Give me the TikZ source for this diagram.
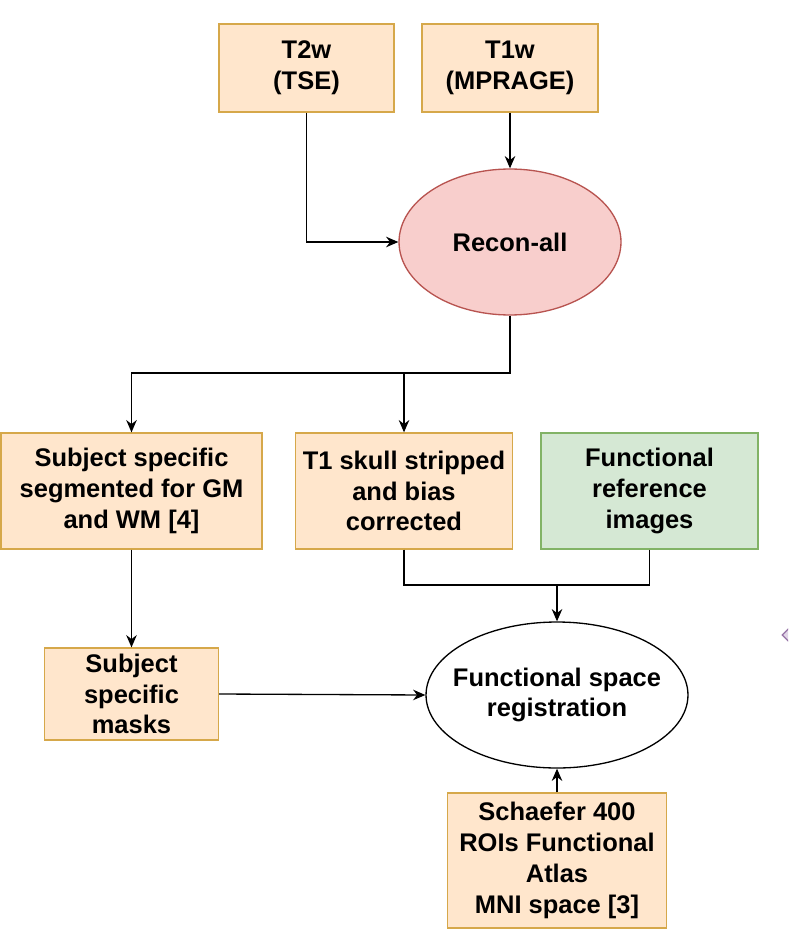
\documentclass[tikz,border=0pt]{standalone}
\usepackage{fontspec}
\setmainfont{Liberation Sans}
\usetikzlibrary{arrows.meta,shapes.geometric}
\definecolor{boxfill}{HTML}{FFE6CC}
\definecolor{boxline}{HTML}{D6A84A}
\definecolor{greenfill}{HTML}{D5E8D4}
\definecolor{greenline}{HTML}{82B366}
\definecolor{pinkfill}{HTML}{F8CECC}
\definecolor{pinkline}{HTML}{B85450}
\definecolor{lilacfill}{HTML}{E1D5E7}
\definecolor{lilacline}{HTML}{9673A6}
\tikzset{
  lab/.style={font=\bfseries\fontsize{14.5}{17.5}\selectfont, align=center},
  stepbox/.style={lab, draw=boxline, fill=boxfill, line width=0.75pt, inner xsep=2pt},
  greenbox/.style={lab, draw=greenline, fill=greenfill, line width=0.75pt, inner xsep=2pt},
  oval/.style={lab, ellipse, line width=0.75pt, inner sep=0pt},
  conn/.style={line width=0.75pt, -{Stealth[length=7pt,width=6pt]}}
}
\begin{document}
\begin{tikzpicture}[x=0.02cm, y=-0.02cm]
  \clip (0,0) rectangle (788,932);
  \fill[white] (0,0) rectangle (788,932);
  % inputs
  \node[stepbox, minimum width=3.5cm, minimum height=1.76cm] (t2w) at (306.5,68) {T2w\\(TSE)};
  \node[stepbox, minimum width=3.52cm, minimum height=1.76cm] (t1w) at (510,68) {T1w\\(MPRAGE)};
  \node[oval, draw=pinkline, fill=pinkfill, minimum width=4.44cm, minimum height=2.92cm] (recon) at (510,242) {Recon-all};
  % outputs of recon-all
  \node[stepbox, minimum width=5.22cm, minimum height=2.32cm] (seg) at (131.5,491) {Subject specific\\segmented for GM\\and WM [4]};
  \node[stepbox, minimum width=4.34cm, minimum height=2.32cm] (skull) at (404,491) {T1 skull stripped\\and bias\\corrected};
  \node[greenbox, minimum width=4.34cm, minimum height=2.32cm] (funcref) at (649.5,491) {Functional\\reference\\images};
  \node[stepbox, minimum width=3.48cm, minimum height=1.76cm] (masks) at (131.5,694) {Subject\\specific\\masks};
  \node[oval, draw=black, fill=white, inner xsep=-0.3cm, minimum width=5.24cm, minimum height=2.92cm] (reg) at (557,695) {Functional space\\registration};
  \node[stepbox, minimum width=4.38cm, minimum height=2.7cm] (atlas) at (557,860.5) {Schaefer 400\\ROIs Functional\\Atlas\\MNI space [3]};
  \node[diamond, draw=lilacline, fill=lilacfill, line width=0.75pt, minimum width=0.8cm, minimum height=0.8cm] (cut) at (802,635) {};
  % connectors
  \coordinate (fork) at (510,373);
  \coordinate (join) at (557,585);
  \draw[conn] (t1w) -- (recon);
  \draw[conn] (t2w.south) |- (recon.west);
  \draw[conn] (recon.south) -- (fork) -| (seg.north);
  \draw[conn] (fork) -| (skull.north);
  \draw[line width=0.75pt] (skull.south) |- (join);
  \draw[line width=0.75pt] (funcref.south) |- (join);
  \draw[conn] (join) -- (reg.north);
  \draw[conn] (seg.south) -- (masks.north);
  \draw[conn] (masks.east) -- (reg.west);
  \draw[conn] (atlas.north) -- (reg.south);
\end{tikzpicture}
\end{document}
